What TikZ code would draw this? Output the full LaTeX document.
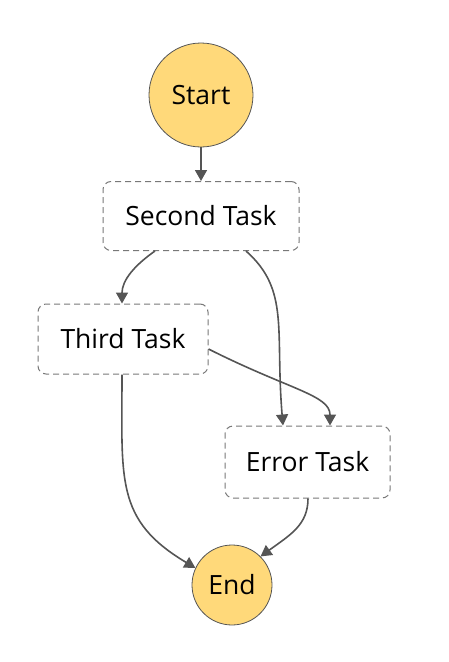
\documentclass[tikz,border=0pt]{standalone}
\usepackage{fontspec}
\setmainfont{Open Sans}
\usetikzlibrary{arrows.meta}
\definecolor{stategold}{RGB}{255,217,122}
\definecolor{edgegray}{RGB}{85,85,85}
\definecolor{boxgray}{RGB}{120,120,120}
\begin{document}
\begin{tikzpicture}[x=1pt,y=-1pt,
  terminal/.style={circle,draw=edgegray,line width=0.8pt,fill=stategold,inner sep=0pt,font=\fontsize{26.5}{30}\selectfont},
  taskbox/.style={draw=boxgray,dash pattern=on 6pt off 4pt,line width=1pt,rounded corners=8pt,fill=white,font=\fontsize{26.5}{30}\selectfont,inner sep=0pt},
  flow/.style={draw=edgegray,line width=1.6pt,-{Triangle[length=11pt,width=12pt]}}]
\useasboundingbox (0,0) rectangle (448,662);
\node[terminal,minimum size=104pt] (start) at (201,95) {Start};
\node[terminal,minimum size=80pt] (end) at (232,585) {End};
\node[taskbox,minimum width=196pt,minimum height=69pt] (second) at (201,216) {Second Task};
\node[taskbox,minimum width=170pt,minimum height=70pt] (third) at (123,339) {Third Task};
\node[taskbox,minimum width=165pt,minimum height=72pt] (error) at (307.5,462) {Error Task};
\draw[flow] (start.south) -- (second.north);
\draw[flow] ([xshift=-46pt]second.south) .. controls (135,265) and (122,280) .. ([xshift=-1pt]third.north);
\draw[flow] ([xshift=45pt]second.south) .. controls (290,290) and (275,330) .. ([xshift=-24.5pt]error.north);
\draw[flow] ([yshift=-10pt]third.east) .. controls (290,390) and (330,395) .. ([xshift=22.5pt]error.north);
\draw[flow] ([xshift=-1pt]third.south) .. controls (122,480) and (115,520) .. (end.155);
\draw[flow] ([xshift=0.5pt]error.south) .. controls (308,525) and (290,535) .. (end.45);
\end{tikzpicture}
\end{document}
